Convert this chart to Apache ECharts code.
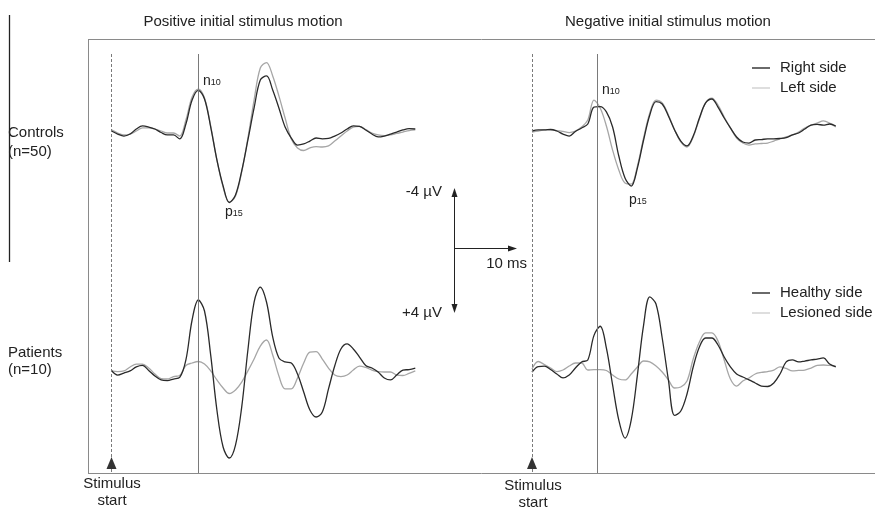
<!DOCTYPE html>
<html>
<head>
<meta charset="utf-8">
<script src="https://cdn.jsdelivr.net/npm/echarts@6/dist/echarts.min.js"></script>
<style>
  html, body { margin: 0; padding: 0; background: #fff; }
  #chart { width: 875px; height: 508px; }
</style>
</head>
<body>
<div id="chart"></div>
<script>
// time after stimulus start, ms
var timeMs = [0,1,2,3,4,5,6,7,8,9,10,11,12,13,14,15,16,17,18,19,20,21,22,23,24,25,26,27,28,29,30,31,32,33,34,35,36,37,38,39,40,41,42,43,44,45,46,47,48,49];

// averaged potentials, µV (negative plotted upward)
// controls, positive initial stimulus motion
var ctrlPosRight = [0.0,0.2,0.33,0.2,-0.13,-0.33,-0.26,-0.13,0.1,0.26,0.26,0.52,-0.46,-2.03,-2.66,-2.1,-0.26,1.9,3.6,4.69,4.2,2.62,0.59,-1.51,-3.34,-3.61,-2.69,-1.51,-0.26,0.46,0.92,0.85,0.66,0.46,0.52,0.49,0.33,0.13,-0.13,-0.33,-0.3,-0.07,0.2,0.39,0.33,0.2,0.07,-0.07,-0.16,-0.13];
var ctrlPosLeft = [-0.07,0.13,0.26,0.2,0.0,-0.2,-0.2,-0.13,0.0,0.13,0.13,0.33,-0.72,-2.23,-2.75,-2.16,-0.33,1.9,3.67,4.69,4.26,2.69,0.46,-2.03,-4.13,-4.49,-3.61,-2.3,-0.85,0.52,1.11,1.28,1.11,1.02,1.05,0.98,0.66,0.33,0.0,-0.26,-0.3,-0.1,0.13,0.26,0.3,0.26,0.16,0.07,-0.03,-0.07];
// controls, negative initial stimulus motion
var ctrlNegRight = [0,-0.07,-0.07,-0.1,0,0.2,0.33,0.03,-0.2,-0.46,-1.57,-1.6,-1.25,-0.26,1.64,3.08,3.61,2.43,0.59,-1.05,-1.93,-1.77,-0.98,-0.07,0.66,0.98,0.33,-0.85,-1.84,-2.1,-1.57,-0.85,-0.2,0.39,0.72,0.79,0.59,0.56,0.52,0.52,0.49,0.43,0.26,0.13,-0.13,-0.39,-0.43,-0.39,-0.46,-0.33];
var ctrlNegLeft = [0.07,0,-0.07,-0.07,-0.03,0.03,0.1,0,-0.26,-0.72,-2.03,-1.51,-0.33,1.25,2.56,3.41,3.48,2.3,0.46,-1.18,-2.03,-1.84,-1.05,-0.07,0.72,1.05,0.39,-0.79,-1.84,-2.16,-1.7,-0.92,-0.2,0.46,0.79,0.92,0.85,0.82,0.79,0.66,0.52,0.39,0.26,0.07,-0.2,-0.39,-0.52,-0.66,-0.52,-0.26];
// patients, positive initial stimulus motion
var patPosHealthy = [-0.1,0.2,0.07,-0.07,-0.33,-0.43,-0.1,0.26,0.52,0.56,0.46,0.36,-0.79,-3.41,-4.72,-4.0,-1.11,2.49,4.92,5.64,4.79,2.3,-1.44,-4.59,-5.57,-4.59,-2.3,-0.92,-0.66,-0.59,0.13,1.31,2.49,2.95,2.62,1.11,-0.39,-1.51,-1.84,-1.51,-0.98,-0.43,-0.26,0,0.39,0.52,0.2,-0.13,-0.16,-0.26];
var patPosLesioned = [-0.07,-0.03,-0.07,-0.33,-0.52,-0.52,-0.26,0.13,0.43,0.46,0.3,0.23,-0.43,-0.59,-0.69,-0.52,-0.07,0.52,1.05,1.41,1.18,0.66,-0.07,-0.85,-1.7,-2.1,-1.11,0.26,1.11,1.11,0.39,-0.59,-1.31,-1.34,-0.85,-0.26,0.2,0.3,0.2,-0.13,-0.39,-0.3,-0.13,-0.03,0,0,0.2,0.23,0.09,-0.07];
// patients, negative initial stimulus motion
var patNegHealthy = [0,-0.36,-0.39,-0.16,0.13,0.39,0.2,-0.26,-0.66,-0.79,-2.4,-3.0,-1.57,0.85,3.15,4.33,3.15,0.2,-3.08,-4.92,-4.46,-2.23,0.52,2.85,2.56,1.44,-0.33,-1.64,-2.23,-2.23,-1.77,-0.98,-0.33,0.13,0.33,0.52,0.72,0.92,0.95,0.72,0.13,-0.66,-0.79,-0.66,-0.72,-0.79,-0.85,-0.92,-0.52,-0.33];
var patNegLesioned = [-0.2,-0.69,-0.49,-0.26,-0.03,-0.13,-0.39,-0.59,-0.59,-0.13,-0.16,-0.16,-0.1,0.2,0.46,0.52,0.13,-0.33,-0.72,-0.66,-0.39,0,0.52,1.05,0.98,0.59,-0.85,-1.97,-2.56,-2.56,-2.03,-0.79,0.46,0.92,0.59,0.39,0.13,0.03,-0.03,-0.13,-0.33,-0.23,-0.07,-0.1,-0.13,-0.26,-0.43,-0.46,-0.43,-0.39];

// latency markers (n10 line), ms
var n10Pos = 14;
var n10Neg = 10.5;

var columnTitles = ['Positive initial stimulus motion', 'Negative initial stimulus motion'];
var legendCtrl = ['Right side', 'Left side'];
var legendPat = ['Healthy side', 'Lesioned side'];

// layout
var FONT = 'Arial, "Liberation Sans", sans-serif';
var DARK = '#2a2a2a', LIGHT = '#a6a6a6', LEGEND_LIGHT = '#d0d0d0';
var gridTop = 54, gridBottomPx = 473;
var pxPerUv = 15.25, pxPerMs = 6.2;
var ctrlBase = 131, patBase = 372;

function yRange(basePx) {
	return {
		min: -(basePx - gridTop) / pxPerUv,
		max: (gridBottomPx - basePx) / pxPerUv
	};
}
function pairs(vals) {
	return vals.map(function(v, i) { return [timeMs[i], v]; });
}
function trace(name, vals, x, y, color, extra) {
	var s = {
		name: name, type: 'line', xAxisIndex: x, yAxisIndex: y,
		data: pairs(vals), smooth: 0.35, symbol: 'none', showSymbol: false,
		lineStyle: { color: color, width: 1.3 }, itemStyle: { color: color },
		silent: true, z: color === DARK ? 3 : 2
	};
	for (var k in extra) s[k] = extra[k];
	return s;
}
function vlines(n10) {
	return {
		silent: true, symbol: ['none', 'none'], label: { show: false },
		data: [
			{ xAxis: 0, lineStyle: { color: '#7a7a7a', width: 1, type: [3, 2] } },
			{ xAxis: n10, lineStyle: { color: '#7a7a7a', width: 1, type: 'solid' } }
		]
	};
}
function startMark() {
	return {
		silent: true, symbol: 'triangle', symbolSize: [10, 12],
		itemStyle: { color: '#333' }, label: { show: false },
		data: [{ coord: [0, (463 - patBase) / pxPerUv] }]
	};
}
function legendItems(names) {
	return [
		{ name: names[0], itemStyle: { color: DARK } },
		{ name: names[1], itemStyle: { color: LEGEND_LIGHT } }
	];
}

var cr = yRange(ctrlBase), pr = yRange(patBase);
var colLeft = [111.5, 532];

var chart = echarts.init(document.getElementById('chart'));

function txt(x, y, s, align, size) {
	return { type: 'text', x: x, y: y, silent: true,
		style: { text: s, fill: '#222', font: (size || 15) + 'px ' + FONT, align: align || 'left', verticalAlign: 'middle' } };
}
function sub(x, y, a, b) {
	return { type: 'text', x: x, y: y, silent: true,
		style: { text: '{m|' + a + '}{s|' + b + '}', fill: '#222', verticalAlign: 'middle',
			rich: { m: { fontSize: 14, fontFamily: FONT, verticalAlign: 'bottom', fill: '#222' },
				s: { fontSize: 9, fontFamily: FONT, verticalAlign: 'bottom', fill: '#222', padding: [0, 0, 1, 0] } } } };
}
function ln(x1, y1, x2, y2, color, w) {
	return { type: 'line', silent: true, shape: { x1: x1, y1: y1, x2: x2, y2: y2 }, style: { stroke: color, lineWidth: w || 1 } };
}
function tri(pts) {
	return { type: 'polygon', silent: true, shape: { points: pts }, style: { fill: '#222' } };
}
function legendAt(names, top) {
	return {
		data: legendItems(names), orient: 'vertical', left: 752, top: top, padding: 0,
		icon: 'rect', itemWidth: 18, itemHeight: 1.4, itemGap: 3, selectedMode: false,
		textStyle: { fontSize: 15, fontFamily: FONT, color: '#222', lineHeight: 17, padding: [0, 0, 0, 5] }
	};
}

chart.setOption({
	animation: false,
	backgroundColor: '#fff',
	grid: [
		{ left: colLeft[0] - 2 * pxPerMs, width: 54 * pxPerMs, top: gridTop, bottom: 508 - gridBottomPx },
		{ left: colLeft[1] - 2 * pxPerMs, width: 54 * pxPerMs, top: gridTop, bottom: 508 - gridBottomPx }
	],
	xAxis: [
		{ type: 'value', gridIndex: 0, min: -2, max: 52, show: false },
		{ type: 'value', gridIndex: 1, min: -2, max: 52, show: false }
	],
	yAxis: [
		{ type: 'value', gridIndex: 0, inverse: true, min: cr.min, max: cr.max, show: false, position: 'left' },
		{ type: 'value', gridIndex: 0, inverse: true, min: pr.min, max: pr.max, show: false, position: 'right' },
		{ type: 'value', gridIndex: 1, inverse: true, min: cr.min, max: cr.max, show: false, position: 'left' },
		{ type: 'value', gridIndex: 1, inverse: true, min: pr.min, max: pr.max, show: false, position: 'right' }
	],
	legend: [legendAt(legendCtrl, 59.5), legendAt(legendPat, 284.5)],
	series: [
		trace('Left side', ctrlPosLeft, 0, 0, LIGHT),
		trace('Right side', ctrlPosRight, 0, 0, DARK, { markLine: vlines(n10Pos) }),
		trace('Lesioned side', patPosLesioned, 0, 1, LIGHT),
		trace('Healthy side', patPosHealthy, 0, 1, DARK, { markPoint: startMark() }),
		trace('Left side', ctrlNegLeft, 1, 2, LIGHT),
		trace('Right side', ctrlNegRight, 1, 2, DARK, { markLine: vlines(n10Neg) }),
		trace('Lesioned side', patNegLesioned, 1, 3, LIGHT),
		trace('Healthy side', patNegHealthy, 1, 3, DARK, { markPoint: startMark() })
	],
	graphic: [
		// frame
		ln(88, 39.5, 875, 39.5, '#8a8a8a'),
		ln(88.5, 39, 88.5, 473, '#8a8a8a'),
		ln(88, 473.5, 875, 473.5, '#8a8a8a'),
		ln(9.5, 15, 9.5, 262, '#222', 1.3),
		// column titles
		txt(243, 22, columnTitles[0], 'center'),
		txt(668, 22, columnTitles[1], 'center'),
		// group labels
		txt(8, 133, 'Controls'), txt(8, 152, '(n=50)'),
		txt(8, 353, 'Patients'), txt(8, 370, '(n=10)'),
		// stimulus labels
		txt(112, 484, 'Stimulus', 'center'), txt(112, 501, 'start', 'center'),
		txt(533, 486, 'Stimulus', 'center'), txt(533, 503, 'start', 'center'),
		// peak labels
		sub(203, 81, 'n', '10'), sub(225, 212, 'p', '15'),
		sub(602, 90, 'n', '10'), sub(629, 200, 'p', '15'),
		// scale bar
		ln(454.5, 195, 454.5, 306, '#222'),
		tri([[454.5, 188], [451.5, 197], [457.5, 197]]),
		tri([[454.5, 313], [451.5, 304], [457.5, 304]]),
		ln(454.5, 248.5, 509, 248.5, '#222'),
		tri([[517, 248.5], [508, 245.5], [508, 251.5]]),
		txt(442, 192, '-4 µV', 'right'),
		txt(442, 313, '+4 µV', 'right'),
		txt(527, 264, '10 ms', 'right')
	]
});
</script>
</body>
</html>
